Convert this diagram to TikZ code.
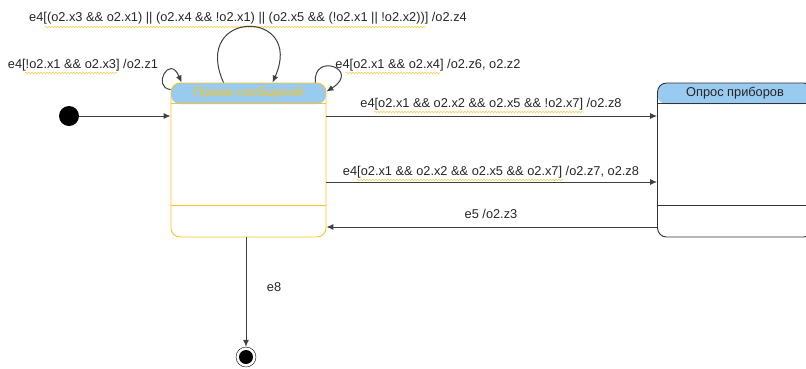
\documentclass[tikz,border=0pt]{standalone}
\usepackage{fontspec}
\setmainfont{Liberation Sans}
\usetikzlibrary{arrows.meta,decorations.pathmorphing}
\definecolor{hdrblue}{HTML}{99CAF0}
\definecolor{stgold}{HTML}{F5C623}
\definecolor{wire}{HTML}{404040}
\tikzset{
  state/.style={rectangle, rounded corners=9pt, line width=0.9pt,
    minimum width=155pt, minimum height=154pt,
    path picture={\fill[hdrblue] (path picture bounding box.north west)
      rectangle ([yshift=-21pt]path picture bounding box.north east);}},
  trans/.style={draw=wire, line width=1pt, -{Latex[length=7pt,width=6pt]}},
  lbl/.style={font=\fontsize{12.8}{14}\selectfont, text=black!85},
  squiggle/.style={draw=stgold!80, line width=0.6pt, decorate,
    decoration={snake, amplitude=0.8pt, segment length=3pt}}
}

\begin{document}
\begin{tikzpicture}[x=1pt,y=-1pt]
\useasboundingbox (0,0) rectangle (806,368);
\clip (0,0) rectangle (806,368);

\node (init) at (69,116) [circle, fill=black, minimum size=20pt, inner sep=0] {};
\node (priem) at (248.5,160) [state, draw=stgold] {};
\node (opros) at (735,160) [state, draw=black!80] {};
\node (priemname) at (248.5,93) [lbl, text=stgold] {Прием сообщений};
\node (oprosname) at (735,93) [lbl] {Опрос приборов};
\node (fin) at (246,357) [circle, draw=black, minimum size=20pt, inner sep=0] {};
\node (fincore) at (246,357) [circle, fill=black, minimum size=14pt, inner sep=0] {};

\draw[stgold, line width=0.9pt] ([yshift=-21pt]priem.north west) -- ([yshift=-21pt]priem.north east);
\draw[stgold, line width=0.9pt] ([yshift=32pt]priem.south west) -- ([yshift=32pt]priem.south east);
\draw[black!80, line width=0.9pt] ([yshift=-21pt]opros.north west) -- ([yshift=-21pt]opros.north east);
\draw[black!80, line width=0.9pt] ([yshift=32pt]opros.south west) -- ([yshift=32pt]opros.south east);

\node (lbltop) at (248,18) [lbl] {e4[(o2.x3 \&\& o2.x1) || (o2.x4 \&\& !o2.x1) || (o2.x5 \&\& (!o2.x1 || !o2.x2))] /o2.z4};
\node (lblleft) at (83,65) [lbl] {e4[!o2.x1 \&\& o2.x3] /o2.z1};
\node (lblright) at (428,65) [lbl] {e4[o2.x1 \&\& o2.x4] /o2.z6, o2.z2};
\node (lblnotx7) at (491,104) [lbl] {e4[o2.x1 \&\& o2.x2 \&\& o2.x5 \&\& !o2.x7] /o2.z8};
\node (lblx7) at (491,172) [lbl] {e4[o2.x1 \&\& o2.x2 \&\& o2.x5 \&\& o2.x7] /o2.z7, o2.z8};
\node (lble5) at (491,214) [lbl] {e5 /o2.z3};
\node (lble8) at (274,287) [lbl] {e8};

% spell-check marks under the guards
\draw[squiggle] (45,27) -- (426,27);
\draw[squiggle] (25,73) -- (117,73);
\draw[squiggle] (346,73) -- (440,73);
\draw[squiggle] (374,112) -- (584,112);
\draw[squiggle] (357,180) -- (563,180);

\draw[trans] (init) -- (priem.west |- init);
\draw[trans] ([yshift=44pt]priem.east) -- ([yshift=44pt]opros.west);
\draw[trans] ([yshift=-22pt]priem.east) -- ([yshift=-22pt]opros.west);
\draw[trans] ([yshift=-67pt]opros.west) -- ([yshift=-67pt]priem.east);
\draw[trans] (priem.south -| fin) -- (fin);

% self loops
\draw[trans] ([xshift=-25pt]priem.north) .. controls +(-33,-74) and +(33,-74) .. ([xshift=24pt]priem.north);
\draw[trans] ([yshift=-7pt]priem.north west) .. controls +(-19,-2) and +(-12,-29) .. ([xshift=11pt]priem.north west);
\draw[trans] ([xshift=-11pt]priem.north east) .. controls +(-3,-31) and +(35,-22) .. ([yshift=-9pt]priem.north east);
\end{tikzpicture}
\end{document}
